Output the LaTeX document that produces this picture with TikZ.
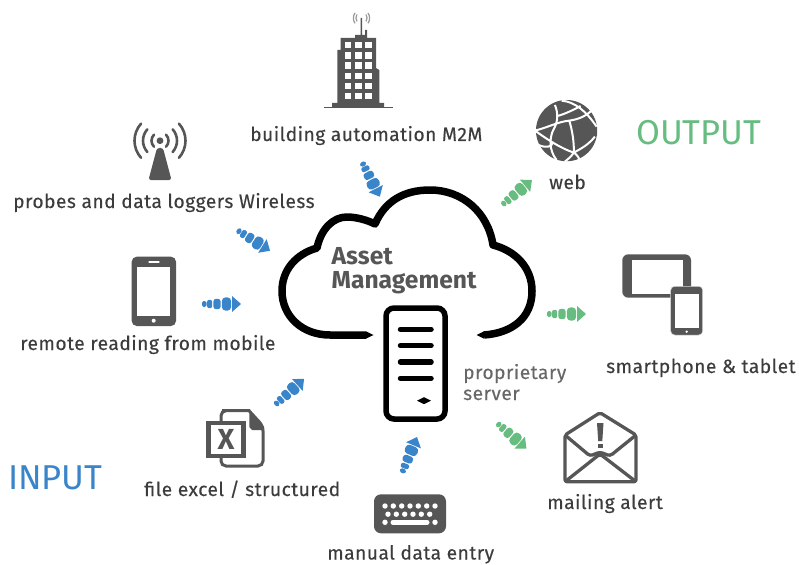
\documentclass[tikz,border=0pt]{standalone}
\usepackage{fontspec}
\setmainfont{Fira Sans}
\newfontfamily\lab[LetterSpace=2.4,FakeBold=0.25]{Fira Sans}
\usetikzlibrary{decorations.markings}
\definecolor{ico}{HTML}{565656}
\definecolor{txt}{HTML}{3C3C3C}
\definecolor{blu}{HTML}{3A85C9}
\definecolor{grn}{HTML}{67BC80}
\tikzset{
 lbl/.style={anchor=base west,inner sep=0pt,text=txt,font=\lab\fontsize{19.25}{22}\selectfont},
 lblb/.style={lbl,text=ico!90!white},
 hdr/.style={anchor=base west,inner sep=0pt,font=\fontsize{34.5}{38}\selectfont},
 ttl/.style={anchor=base west,inner sep=0pt,text=ico,font=\bfseries\fontsize{24.6}{28}\selectfont},
 dotarrow/.style={decoration={markings,
   mark=at position 2.3pt with {\fill[#1,rounded corners=1.6pt] (-2.2pt,-3pt) rectangle (2.2pt,3pt);},
   mark=at position 7.6pt with {\fill[#1,rounded corners=2pt] (-2.5pt,-4.2pt) rectangle (2.5pt,4.2pt);},
   mark=at position 15pt with {\fill[#1,rounded corners=2.6pt] (-3.6pt,-5.2pt) rectangle (3.6pt,5.2pt);},
   mark=at position 24.5pt with {\fill[#1,rounded corners=3.6pt] (-4.6pt,-6.6pt) rectangle (4.6pt,6.6pt);},
   mark=at position 30pt with {\fill[#1] (0,8pt) -- (9pt,0pt) -- (0,-8pt) -- cycle;}},
   postaction={decorate}},
 wave/.style={draw=ico,line width=2.6pt,line cap=round},
}
\begin{document}
\begin{tikzpicture}[x=1pt,y=-1pt]
\useasboundingbox (0,0) rectangle (799,564);
% cloud
\fill[black] (373.5,335) -- (366,331.3) -- (366,338.7) -- cycle;
\fill[black] (476.5,335) -- (484,331.3) -- (484,338.7) -- cycle;
\draw[black,line width=7.5pt,line join=round]
  (366,335) -- (330,335) .. controls (302,335) and (282,316) .. (282,291)
  .. controls (282,270) and (296,254) .. (317,248)
  .. controls (321,229) and (333,217) .. (347,217)
  .. controls (356,217) and (367,220) .. (375,224)
  .. controls (385,201) and (404,190) .. (430,190)
  .. controls (462,190) and (488,212) .. (493,245)
  .. controls (516,251) and (532,268) .. (532,291)
  .. controls (532,318) and (512,333) .. (484,335);
% server
\draw[black,line width=5.5pt,rounded corners=8pt] (386,308) rectangle (445,419);
\foreach \yy in {329.3,345.7,362,378.3}
  \draw[black,line width=5.5pt,line cap=round] (400.5,\yy) -- (431,\yy);
\fill[black] (417,400.7) -- (424,397.2) -- (431,400.7) -- (424,404.2) -- cycle;
\node[ttl] (asset) at (331.5,264) {Asset};
\node[ttl] (mgmt) at (331.5,288) {Management};
\node[lblb] (prop) at (463,379) {proprietary};
\node[lblb] (serv) at (463,400) {server};
% building
\draw[ico,line width=1.3pt] (324,107.3) -- (393,107.3);
\fill[ico] (332,107) -- (332,103) -- (337.3,103) -- (337.3,50) -- (340.7,50) -- (340.7,38) -- (355,38) -- (355,35) -- (360.5,35) -- (360.5,18) -- (362,18) -- (362,35) -- (365,35) -- (365,30) -- (367,30) -- (367,38) -- (376,38) -- (376,68) -- (379.3,70) -- (379.3,103) -- (384,103) -- (384,107) -- cycle;
\foreach \xx in {348,358.3,368.7} \foreach \yy in {45,55.3,65.7,76,86,96}
  \fill[white] (\xx-3.3,\yy-3.3) rectangle (\xx+3.3,\yy+3.3);
\draw[gray!80,line width=1.2pt] (357,14.5) arc[start angle=145,end angle=215,radius=6pt] (366,14.5) arc[start angle=35,end angle=-35,radius=6pt];
\draw[gray!80,line width=1.2pt] (355,13) arc[start angle=145,end angle=215,radius=9pt] (368,13) arc[start angle=35,end angle=-35,radius=9pt];
\node[lbl] (bld) at (250,141) {building automation M2M};
% antenna
\coordinate (ant) at (160,140.7);
\fill[ico] (ant) circle[radius=3.4pt];
\fill[ico,rounded corners=2.5pt] (157,148) -- (163,148) -- (171.5,180) -- (148.5,180) -- cycle;
\foreach \r/\a in {8.5/45,17/42,25.5/42}{
  \draw[wave] (ant) ++(\a:\r pt) arc[start angle=\a,end angle=-\a,radius=\r pt];
  \draw[wave] (ant) ++(180-\a:\r pt) arc[start angle=180-\a,end angle=180+\a,radius=\r pt];
}
\node[lbl] (prb) at (13,208) {probes and data loggers Wireless};
% mobile
\fill[ico,rounded corners=5pt] (131.7,256.7) rectangle (176,326);
\fill[white] (137.3,267.3) rectangle (170,316);
\draw[white,line width=1.1pt,line cap=round] (149,262) -- (159,262);
\fill[white] (153.7,320.7) circle[radius=2pt];
\node[lbl] (mob) at (20,350) {remote reading from mobile};
% excel
\draw[ico,line width=3pt,rounded corners=5pt] (250,410.7) -- (227,410.7) -- (221,410.7) -- (221,466) -- (263,466) -- (263,426) -- (249,410.7);
\fill[ico] (249.3,410.7) -- (264,426.7) -- (264,430) -- (252,430) -- (249.3,427) -- cycle;
\fill[white,draw=ico,line width=4.6pt] (208.3,423) rectangle (243.7,456);
\node[anchor=center,inner sep=0pt,text=ico,font=\bfseries\fontsize{29}{30}\selectfont] (xl) at (226,439.5) {X};
\node[lbl] (exc) at (144,496) {file excel / structured};
% keyboard
\fill[ico,rounded corners=7pt] (374,494.3) rectangle (446,533.3);
\foreach \xx in {385,393.3,401.7,410,418.3,426.7,435} \fill[white] (\xx,506) circle[radius=2.7pt];
\foreach \xx in {388,396.3,404.7,413,421.3,429.7} \fill[white] (\xx,514.2) circle[radius=2.7pt];
\fill[white] (385,522.3) circle[radius=2.7pt] (435,522.3) circle[radius=2.7pt];
\draw[white,line width=5pt,line cap=round] (393,522.3) -- (427,522.3);
\node[lbl] (kbd) at (327,559.5) {manual data entry};
% globe
\begin{scope}[shift={(490,90)},x=.333pt,y=-.333pt]
\fill[ico] (230,122) circle[radius=92pt*.333];
\draw[white,line width=2pt]
 (135,122) .. controls (175,112) and (205,95) .. (238,92) .. controls (265,88) and (285,80) .. (305,62)
 (135,122) .. controls (160,140) and (210,175) .. (252,188) .. controls (262,195) and (268,205) .. (272,215)
 (238,92) .. controls (248,125) and (252,155) .. (252,188)
 (195,45) .. controls (205,70) and (205,95) .. (190,120) .. controls (180,140) and (175,180) .. (200,210)
 (215,32) .. controls (255,35) and (290,65) .. (320,110)
 (252,188) .. controls (275,175) and (295,165) .. (315,140)
 (145,165) .. controls (170,175) and (185,172) .. (190,155)
 (252,188) .. controls (240,205) and (230,210) .. (225,215)
 (203,78) .. controls (225,72) and (250,60) .. (272,48);
\end{scope}
\node[lbl] (web) at (549,189) {web};
% tablet
\fill[ico,rounded corners=6pt] (622.3,254.3) rectangle (691,297.7);
\fill[white] (632,260) rectangle (682.7,293.7);
\fill[ico,rounded corners=4pt,draw=white!75!ico,line width=.5pt] (670.7,286.3) rectangle (702.7,335);
\fill[white] (674.7,294) rectangle (698.7,328.3);
\fill[white] (686.7,331.7) circle[radius=1.3pt];
\node[lbl] (sma) at (606,373) {smartphone \& tablet};
% mail
\draw[ico,line width=3.3pt,line join=round,rounded corners=2pt] (565,481.7) -- (565,435) -- (600,412.7) -- (636,435) -- (636,481.7) -- cycle;
\draw[ico,line width=3.3pt,rounded corners=3pt] (565,435) -- (590,456) -- (600,452) -- (610,456) -- (636,435);
\draw[ico,line width=3.3pt,rounded corners=3pt] (565,481.7) -- (600,454) -- (636,481.7);
\fill[ico] (597,423) -- (603.5,423) -- (602.3,441) -- (598.2,441) -- cycle;
\fill[ico] (597.5,444) rectangle (602.8,448.3);
\node[lbl] (mai) at (547,509) {mailing alert};
% headers
\node[hdr,text=blu] (inp) at (8,489) {INPUT};
\node[hdr,text=grn] (out) at (636,145) {OUTPUT};
% connectors
\coordinate (a1s) at (362,162); \coordinate (a1e) at (380,197);
\coordinate (a2s) at (237,230); \coordinate (a2e) at (272,252);
\coordinate (a3s) at (202,304); \coordinate (a3e) at (241,304);
\coordinate (a4s) at (275,405); \coordinate (a4e) at (304,379);
\coordinate (a5s) at (402,473); \coordinate (a5e) at (417,437);
\coordinate (b1s) at (502,205); \coordinate (b1e) at (532,180);
\coordinate (b2s) at (547,314); \coordinate (b2e) at (586,314);
\coordinate (b3s) at (497,423); \coordinate (b3e) at (527,449);
\foreach \s/\e in {a1s/a1e,a2s/a2e,a3s/a3e,a4s/a4e,a5s/a5e} \path[dotarrow=blu] (\s) -- (\e);
\foreach \s/\e in {b1s/b1e,b2s/b2e,b3s/b3e} \path[dotarrow=grn] (\s) -- (\e);
\end{tikzpicture}
\end{document}
